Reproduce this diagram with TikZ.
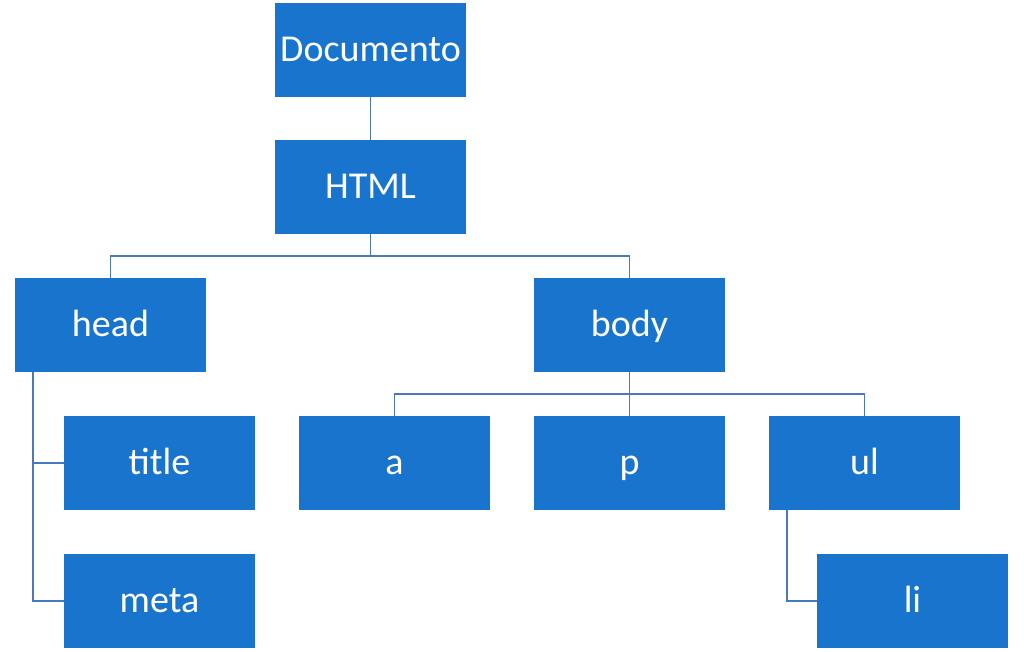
\documentclass[tikz,border=0pt]{standalone}
\usepackage{fontspec}
\setmainfont{Carlito}
\definecolor{boxblue}{HTML}{1874CD}
\definecolor{lineblue}{HTML}{4A78C0}
\begin{document}
\begin{tikzpicture}[x=1pt,y=-1pt,
  tbox/.style={fill=boxblue,draw=none,minimum width=191pt,minimum height=94pt,inner sep=0pt,
    text=white,font=\fontsize{38}{44}\selectfont,text height=23pt,text depth=0pt,anchor=center},
  conn/.style={draw=lineblue,line width=1.5pt}]
\useasboundingbox (0,0) rectangle (1024,651);
\node[tbox] (doc) at (370.5,50) {Documento};
\node[tbox] (html) at (370.5,187) {HTML};
\node[tbox] (head) at (110.5,325) {head};
\node[tbox] (body) at (629.5,325) {body};
\node[tbox] (title) at (159.5,463) {title};
\node[tbox] (meta) at (159.5,601) {meta};
\node[tbox] (a) at (394.5,463) {a};
\node[tbox] (p) at (629.5,463) {p};
\node[tbox] (ul) at (864.5,463) {ul};
\node[tbox] (li) at (912.5,601) {li};
\coordinate (hb) at (370.5,256);
\coordinate (bb) at (629.5,394);
\coordinate (hl) at (33,372);
\coordinate (ull) at (787,510);
\draw[conn] (doc.south) -- (html.north);
\draw[conn] (html.south) -- (hb);
\draw[conn] (head.north) |- (hb) -| (body.north);
\draw[conn] (body.south) -- (p.north);
\draw[conn] (a.north) |- (bb) -| (ul.north);
\draw[conn] (hl) |- (meta.west);
\draw[conn] (hl |- title.west) -- (title.west);
\draw[conn] (ull) |- (li.west);
\end{tikzpicture}
\end{document}
